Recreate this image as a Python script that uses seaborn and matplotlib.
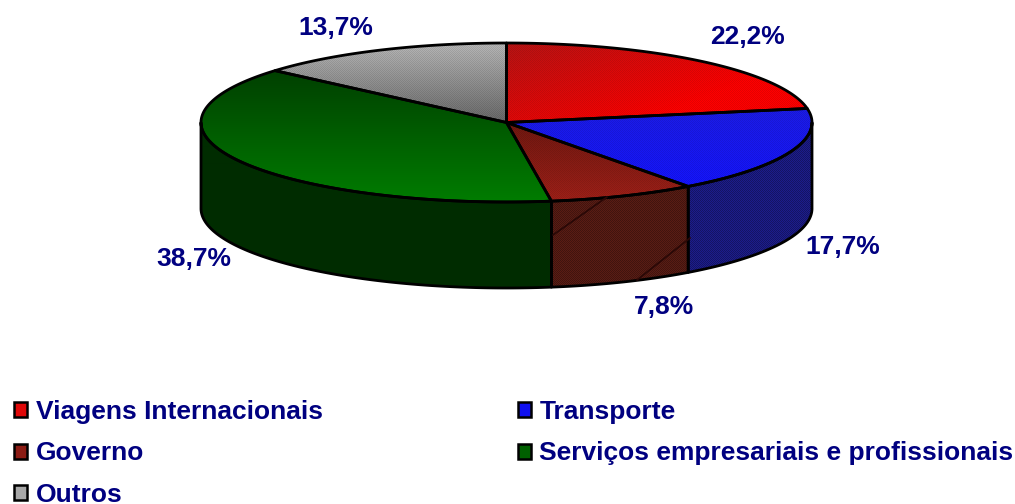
import numpy as np
import matplotlib
matplotlib.use('Agg')
import matplotlib.pyplot as plt
from matplotlib.patches import Patch, Polygon
from matplotlib.colors import to_rgb
import seaborn as sns

categories = ['Viagens Internacionais', 'Transporte', 'Governo',
              'Serviços empresariais e profissionais', 'Outros']
values = [22.2, 17.7, 7.8, 38.7, 13.7]
value_labels = ['22,2%', '17,7%', '7,8%', '38,7%', '13,7%']

# top face colours: dark end / bright end of the gradient
top_start = ['#b81414', '#1c1ce8', '#701810', '#004000', '#b8b8b8']
top_end = ['#ff0000', '#1414ff', '#a02018', '#007c00', '#686868']
slant = [0.6, 0, 0, 0, 0]
side_colors = ['#800000', '#1c1c8c', '#5a1c14', '#002c00', '#555555']
legend_colors = ['#e00808', '#1010f0', '#8c1c14', '#006000', '#a8a8a8']

label_pos = [(748, 37), (843, 247), (664, 307), (194, 259), (336, 28)]

cx, cy, rx, ry, depth = 506.5, 122.5, 305.5, 79.5, 86
navy = '#000080'

sns.set_theme(style='white')
plt.rcParams['font.family'] = ['Liberation Sans', 'DejaVu Sans']

fig = plt.figure(figsize=(10.15, 5.04), dpi=100)
ax = fig.add_axes([0, 0, 1, 1])


def arc(a, b, dy=0):
    t = np.linspace(a, b, max(int(abs(b - a) * 120), 2))
    return np.column_stack([cx + rx * np.sin(t), cy - ry * np.cos(t) + dy])


def textured(path_pts, c0, c1, strength=0.09, s=0.0):
    # gradient with the fine stipple of the old chart, clipped to the face
    x0, y0 = np.floor(path_pts.min(axis=0)).astype(int)
    x1, y1 = np.ceil(path_pts.max(axis=0)).astype(int)
    h, w = y1 - y0, x1 - x0
    yy, xx = np.mgrid[0:h, 0:w]
    g = ((1 - s) * yy / max(h - 1, 1) + s * xx / max(w - 1, 1))[:, :, None]
    if s > 0:
        g = np.clip(g * 1.5, 0, 1)
    img = np.array(to_rgb(c0))[None, None, :] * (1 - g) + np.array(to_rgb(c1))[None, None, :] * g
    dots = ((xx + yy + y0 + x0) % 2 == 0)[:, :, None]
    img = np.clip(img * (1 - strength * dots), 0, 1)
    im = ax.imshow(img, extent=(x0, x1, y1, y0), interpolation='nearest', aspect='auto', zorder=2)
    poly = Polygon(path_pts, closed=True, facecolor='none', edgecolor='black', lw=2,
                   joinstyle='round', zorder=3)
    ax.add_patch(poly)
    im.set_clip_path(poly)


fractions = np.array(values) / sum(values)
edges = np.concatenate([[0], np.cumsum(fractions)]) * 2 * np.pi

# sides first, only the front half of the cylinder shows
for i in range(len(values)):
    a, b = max(edges[i], np.pi / 2), min(edges[i + 1], 3 * np.pi / 2)
    if b <= a:
        continue
    pts = np.vstack([arc(a, b), arc(a, b, depth)[::-1]])
    textured(pts, side_colors[i], side_colors[i], strength=0.28 if i != 3 else 0.0)

# top faces
for i in range(len(values)):
    pts = np.vstack([[cx, cy], arc(edges[i], edges[i + 1])])
    textured(pts, top_start[i], top_end[i], strength=0.1 if i != 3 else 0.0, s=slant[i])

# the thin diagonal lines on the Governo side
ax.plot([553, 607], [235, 197], color='#2a0806', lw=1.3, zorder=4)
ax.plot([637, 690], [280, 238], color='#2a0806', lw=1.3, zorder=4)

for (x, y), txt in zip(label_pos, value_labels):
    ax.text(x, y, txt, color=navy, fontsize=19, fontweight='bold', ha='center', va='center')

handles = [Patch(facecolor=c, edgecolor='black', lw=1.8, label=n)
           for c, n in zip(legend_colors, categories)]
order = [0, 2, 4, 1, 3]
ax.legend([handles[i] for i in order], [categories[i] for i in order], ncols=2,
          loc='lower left', bbox_to_anchor=(0.0138, -0.006), frameon=False,
          prop={'size': 19, 'weight': 'bold'}, labelcolor=navy, handlelength=0.5,
          handleheight=0.5, handletextpad=0.32, columnspacing=7.39, labelspacing=0.665,
          borderpad=0, borderaxespad=0)

ax.set_xlim(0, 1015)
ax.set_ylim(504, 0)
ax.axis('off')
fig.savefig('out.png', dpi=100, facecolor='white')
